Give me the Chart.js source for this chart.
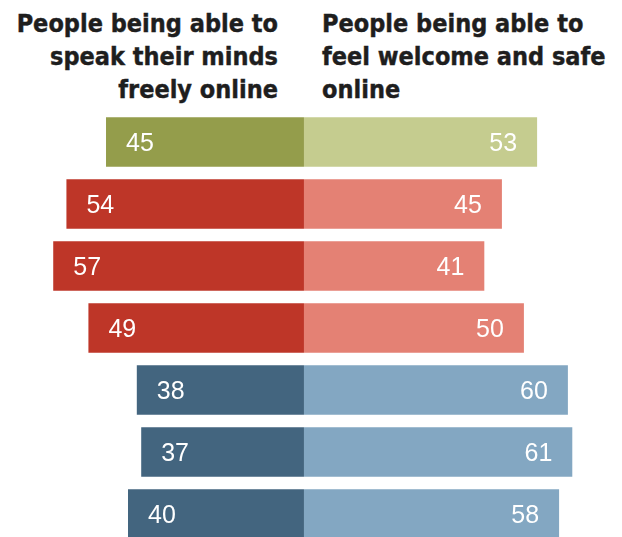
<!DOCTYPE html>
<html><head><meta charset="utf-8">
<script src="https://cdn.jsdelivr.net/npm/chart.js@4"></script>
<style>
html,body{margin:0;padding:0;background:#fff;overflow:hidden;width:622px;height:537px;}
#wrap{position:absolute;left:0;top:0;width:622px;height:545px;}
.hd{position:absolute;top:7px;font-family:"Liberation Sans Narrow","DejaVu Sans Condensed",sans-serif;font-weight:bold;font-size:25px;line-height:33px;color:#1e1e1e;white-space:nowrap;-webkit-text-stroke:0.4px #1e1e1e;}
#hl{right:344px;text-align:right;}
#hr{left:322px;text-align:left;}
</style></head>
<body>
<div class="hd" id="hl">People being able to<br>speak their minds<br>freely online</div>
<div class="hd" id="hr">People being able to<br>feel welcome and safe<br>online</div>
<div id="wrap"><canvas id="c"></canvas></div>
<script>
const categories = ["A","B","C","D","E","F","G"];
const speakFreely = [45,54,57,49,38,37,40];
const feelSafe = [53,45,41,50,60,61,58];
const darkColors = ["#949d4b","#be3628","#be3628","#be3628","#43657f","#43657f","#43657f"];
const lightColors = ["#c5cc8f","#e48174","#e48174","#e48174","#83a7c2","#83a7c2","#83a7c2"];

const labelPlugin = {
  id:'vals',
  afterDatasetsDraw(chart){
    const ctx = chart.ctx;
    ctx.save();
    ctx.fillStyle = '#fff';
    ctx.font = '25px "Liberation Sans", Arial, sans-serif';
    ctx.textBaseline = 'middle';
    chart.data.datasets.forEach((ds, di) => {
      const meta = chart.getDatasetMeta(di);
      meta.data.forEach((bar, i) => {
        const v = di === 0 ? speakFreely[i] : feelSafe[i];
        if (di === 0) {
          ctx.textAlign = 'left';
          ctx.fillText(String(v), bar.x + 20, bar.y + 2);
        } else {
          ctx.textAlign = 'right';
          ctx.fillText(String(v), bar.x - 20, bar.y + 2);
        }
      });
    });
    ctx.restore();
  }
};

new Chart(document.getElementById('c'), {
  type:'bar',
  data:{
    labels: categories,
    datasets:[
      {label:'Speak freely', data: speakFreely.map(v => -v), backgroundColor: darkColors, barPercentage:0.8, categoryPercentage:1},
      {label:'Feel safe', data: feelSafe, backgroundColor: lightColors, barPercentage:0.8, categoryPercentage:1}
    ]
  },
  options:{
    indexAxis:'y',
    responsive:true,
    maintainAspectRatio:false,
    animation:false,
    layout:{padding:{top:111,left:0,right:0,bottom:0}},
    plugins:{legend:{display:false},tooltip:{enabled:false}},
    scales:{
      x:{stacked:true,display:false,min:-69.1,max:72.3,grid:{display:false}},
      y:{stacked:true,display:false,grid:{display:false}}
    }
  },
  plugins:[labelPlugin]
});
</script>
</body></html>
